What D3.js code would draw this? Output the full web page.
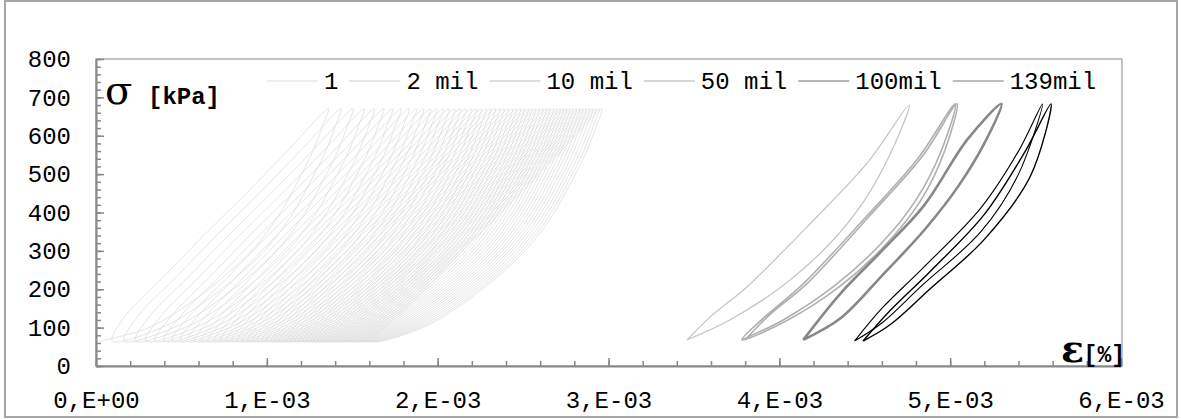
<!DOCTYPE html>
<html>
<head>
<meta charset="utf-8">
<script src="https://cdn.jsdelivr.net/npm/d3@7/dist/d3.min.js"></script>
<style>
  body { margin: 0; background: #fff; }
  text { font-family: "Liberation Mono", "DejaVu Sans Mono", monospace; fill: #000; }
</style>
</head>
<body>
<svg id="chart" width="1181" height="419"></svg>
<script>
// ---------------- data ----------------
// strain in units of 1e-3 [%], stress in kPa
const seriesNames = ["1", "2 mil", "10 mil", "50 mil", "100mil", "139mil"];
const xTickValues = [0, 1, 2, 3, 4, 5, 6];
const xTickLabels = ["0,E+00", "1,E-03", "2,E-03", "3,E-03", "4,E-03", "5,E-03", "6,E-03"];
const yTickValues = [0, 100, 200, 300, 400, 500, 600, 700, 800];

// series "1" : first cycles, one entry = strain where a cycle starts (bottom tip)
const fanStart = [0.02, 0.095, 0.165, 0.23, 0.29, 0.345, 0.397, 0.446, 0.492, 0.536,
  0.578, 0.618, 0.656, 0.692, 0.727, 0.761, 0.794, 0.826, 0.857, 0.887,
  0.916, 0.944, 0.971, 0.998, 1.024, 1.049, 1.074, 1.098, 1.122, 1.145,
  1.168, 1.19, 1.212, 1.234, 1.255, 1.276, 1.297, 1.317, 1.337, 1.357,
  1.377, 1.396, 1.415, 1.434, 1.453, 1.472, 1.491, 1.51, 1.529, 1.548,
  1.567, 1.586, 1.605, 1.622];
// shape of one of those cycles (strain measured from the cycle start)
const fanLoadStress   = [65, 100, 180, 300, 400, 480, 560, 630, 670];
const fanLoadOffset   = [0, 0.29, 0.58, 0.89, 1.06, 1.16, 1.25, 1.31, 1.34];
const fanUnloadStress = [560, 450, 340, 230, 130];
const fanUnloadOffset = [1.10, 0.86, 0.61, 0.37, 0.15];

// later cycles  [strain, stress]
const cycles2mil = [[3.46, 68], [3.71, 120], [4.01, 206], [4.30, 321], [4.50, 433], [4.66, 563], [4.76, 680],
  [4.52, 532], [4.20, 380], [3.81, 206], [3.60, 130], [3.46, 68]];
const cycles10mil = [[3.78, 68], [4.03, 122], [4.32, 208], [4.60, 321], [4.80, 433], [4.95, 563], [5.03, 683],
  [4.81, 540], [4.50, 385], [4.13, 210], [3.92, 130], [3.78, 68],
  [4.05, 120], [4.35, 206], [4.63, 320], [4.83, 433], [4.97, 563], [5.04, 683],
  [4.84, 548], [4.53, 392], [4.16, 214], [3.94, 132], [3.80, 68]];
const cycles50mil = [[4.14, 68], [4.36, 125], [4.60, 235], [4.85, 355], [5.05, 470], [5.20, 580], [5.30, 683],
  [5.10, 590], [4.85, 420], [4.60, 300], [4.36, 190], [4.14, 68]];
const cycles100mil = [[4.44, 65], [4.60, 112], [4.84, 212], [5.18, 350], [5.40, 500], [5.54, 683],
  [5.40, 560], [5.18, 412], [4.84, 255], [4.60, 150], [4.44, 65]];
const cycles139mil = [[4.49, 65], [4.65, 108], [4.88, 200], [5.20, 330], [5.47, 495], [5.59, 683],
  [5.44, 560], [5.20, 395], [4.88, 245], [4.65, 145], [4.49, 65]];

// ---------------- styles ----------------
const seriesColor  = ["#dadada", "#c6c6c6", "#b0b0b0", "#888888", "#000000", "#000000"];
const seriesWidth  = [0.7, 1.3, 1.6, 2.6, 1.1, 1.4];
const legendColor  = ["#e8e8e8", "#dedede", "#d4d4d4", "#c8c8c8", "#a0a0a0", "#a8a8a8"];

// build series "1" from the cycle list
const fanPts = [];
fanStart.forEach(s => {
  fanLoadStress.forEach((sg, j) => fanPts.push([s + fanLoadOffset[j], sg]));
  fanUnloadStress.forEach((sg, j) => fanPts.push([s + fanUnloadOffset[j], sg]));
});
const seriesData = [fanPts, cycles2mil, cycles10mil, cycles50mil, cycles100mil, cycles139mil];

// ---------------- chart ----------------
const svg = d3.select("#chart");
const plot = { left: 96, right: 1121, top: 59, bottom: 366 };

const xScale = d3.scaleLinear().domain([0, 6]).range([plot.left, plot.right]);
const yScale = d3.scaleLinear().domain([0, 800]).range([plot.bottom, plot.top]);

// outer frame
svg.append("rect")
  .attr("x", 5).attr("y", 1).attr("width", 1172).attr("height", 416)
  .attr("fill", "none").attr("stroke", "#a6a6a6").attr("stroke-width", 2);

// plot frame
svg.append("rect")
  .attr("x", plot.left).attr("y", plot.top)
  .attr("width", plot.right + 1 - plot.left).attr("height", plot.bottom - plot.top)
  .attr("fill", "none").attr("stroke", "#b0b0b0").attr("stroke-width", 1.5);

// minor ticks
svg.append("g")
  .attr("class", "x_minor")
  .attr("transform", `translate(0,${plot.bottom})`)
  .call(d3.axisBottom(xScale).tickValues(d3.range(0, 6.01, 0.2)).tickSize(-5).tickFormat(""));
svg.append("g")
  .attr("class", "y_minor")
  .attr("transform", `translate(${plot.left},0)`)
  .call(d3.axisLeft(yScale).tickValues(d3.range(0, 801, 20)).tickSize(-5).tickFormat(""));

// major ticks + labels
svg.append("g")
  .attr("class", "x_axis")
  .attr("transform", `translate(0,${plot.bottom})`)
  .call(d3.axisBottom(xScale).tickValues(xTickValues)
    .tickFormat((d, i) => xTickLabels[i]).tickSizeInner(-8).tickSizeOuter(0));
svg.append("g")
  .attr("class", "y_axis")
  .attr("transform", `translate(${plot.left},0)`)
  .call(d3.axisLeft(yScale).tickValues(yTickValues)
    .tickSizeInner(-8).tickSizeOuter(0));

svg.selectAll(".x_minor .domain, .y_minor .domain, .x_minor text, .y_minor text").remove();
svg.selectAll(".x_axis .domain, .y_axis .domain")
  .attr("stroke", "#878787").attr("stroke-width", 2);
svg.selectAll(".tick line").attr("stroke", "#878787").attr("stroke-width", 1.5);
svg.selectAll(".x_axis .tick text, .y_axis .tick text")
  .style("font-family", '"Liberation Mono", monospace')
  .style("font-size", "24px")
  .attr("fill", "#000");
svg.selectAll(".x_axis .tick text").attr("y", 25);
svg.selectAll(".y_axis .tick text").attr("x", -25).attr("text-anchor", "end");

// curves
const line = d3.line()
  .x(d => xScale(d[0]))
  .y(d => yScale(d[1]))
  .curve(d3.curveCatmullRom.alpha(0.5));

svg.append("g").attr("class", "series")
  .selectAll("path")
  .data(seriesData)
  .join("path")
    .attr("d", line)
    .attr("fill", "none")
    .attr("stroke", (d, i) => seriesColor[i])
    .attr("stroke-width", (d, i) => seriesWidth[i])
    .attr("stroke-linejoin", "round");

// legend
const legend = svg.append("g").attr("class", "legend");
let lx = 267;
const ly = 81;
seriesNames.forEach((name, i) => {
  legend.append("line")
    .attr("x1", lx).attr("x2", lx + 51)
    .attr("y1", ly).attr("y2", ly)
    .attr("stroke", legendColor[i]).attr("stroke-width", 1.3);
  const t = legend.append("text")
    .attr("x", lx + 57).attr("y", ly + 8)
    .style("font-size", "24px")
    .text(name);
  lx = lx + 57 + t.node().getComputedTextLength() + 11;
});

// axis titles
svg.append("text")
  .attr("x", 105).attr("y", 104)
  .style("font-family", '"DejaVu Serif", serif')
  .style("font-size", "40px")
  .text("σ");
svg.append("text")
  .attr("x", 148).attr("y", 104)
  .style("font-size", "24px").style("font-weight", "bold")
  .text("[kPa]");
svg.append("text")
  .attr("x", 1084).attr("y", 362)
  .attr("text-anchor", "end")
  .style("font-family", '"DejaVu Serif", serif')
  .style("font-size", "38px").style("font-weight", "bold")
  .text("ε");
svg.append("text")
  .attr("x", 1125).attr("y", 362)
  .attr("text-anchor", "end")
  .style("font-size", "23px").style("font-weight", "bold")
  .text("[%]");
</script>
</body>
</html>
